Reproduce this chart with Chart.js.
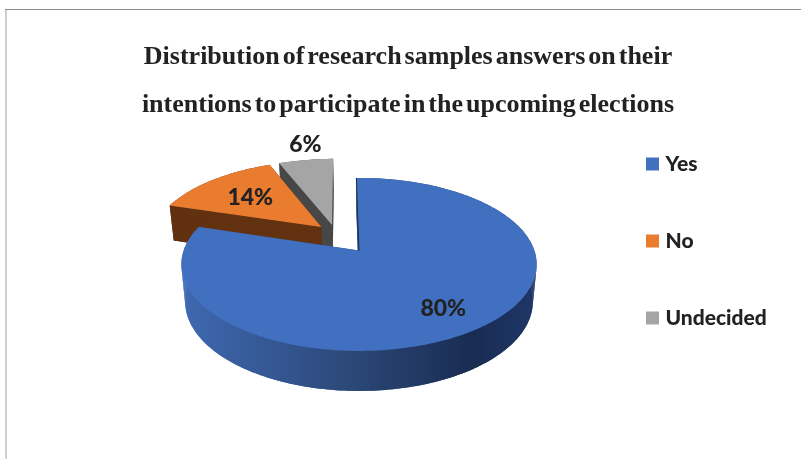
<!DOCTYPE html>
<html>
<head>
<meta charset="utf-8">
<style>
  html, body { margin: 0; padding: 0; background: #fff; }
  canvas { display: block; }
</style>
<script src="https://cdn.jsdelivr.net/npm/chart.js@4"></script>
</head>
<body>
<canvas id="chart" width="801" height="459"></canvas>
<script>
const categories = ["Yes", "No", "Undecided"]
const shares = [80, 14, 6]
const titleLines = [
  "Distribution of research samples answers on their",
  "intentions to participate in the upcoming elections",
]

const topColors = ["#4270c0", "#ea7c30", "#a5a5a5"]
const sideColors = [null, "#613110", "#474747"]
// exploded slices slide on the ground plane, in units of the pie radius
const sliceShift = [[0, 0], [-0.225, 0.293], [-0.1615, 0.319]]
// where each % label sits: along the slice's middle (radius units), and turned off it (radians)
const labelReach = [0.75, 0.63, 1.3]
const labelTurn = [0.03, 0, 0.034]

const PERSPECTIVE = 0.1607

// ground plane (u right, v away from viewer) -> screen, fitted to the reference
const project = (arc, u, v, lower) => {
  const d = 1 + PERSPECTIVE * v
  const t = v / d
  const R = arc.outerRadius
  const ax = arc.x
  const ay = arc.y - 14
  if (lower) return [ax + 0.964 * R * u / d, ay + 36.6 - (0.4734 * R + 2.87) * t]
  return [ax + 0.985 * R * u / d, ay - 0.4734 * R * t]
}

const rimPoint = (arc, angle, reach, shift, lower) => {
  const th = angle + Math.PI / 2
  return project(arc, reach * Math.sin(th) + shift[0], reach * Math.cos(th) + shift[1], lower)
}

const outline = (arc, shift, lower) => {
  const pts = [project(arc, shift[0], shift[1], lower)]
  const steps = Math.ceil((arc.endAngle - arc.startAngle) / 0.02)
  for (let i = 0; i <= steps; i++) {
    const a = arc.startAngle + (arc.endAngle - arc.startAngle) * i / steps
    pts.push(rimPoint(arc, a, 1, shift, lower))
  }
  return pts
}

const fillPoly = (ctx, pts) => {
  ctx.beginPath()
  pts.forEach((p, i) => (i ? ctx.lineTo(p[0], p[1]) : ctx.moveTo(p[0], p[1])))
  ctx.closePath()
  ctx.fill()
}

const drawSlice = (ctx, arc, i) => {
  const top = outline(arc, sliceShift[i], false)
  const low = outline(arc, sliceShift[i], true)
  if (i === 0) {
    const R = arc.outerRadius
    const g = ctx.createLinearGradient(arc.x - R, 0, arc.x + R, 0)
    g.addColorStop(0, "#3f69b2")
    g.addColorStop(0.5, "#2a4675")
    g.addColorStop(0.82, "#192c52")
    g.addColorStop(1, "#1f3768")
    ctx.fillStyle = g
  } else {
    ctx.fillStyle = sideColors[i]
  }
  fillPoly(ctx, low)
  for (let k = 0; k < top.length; k++) {
    const n = (k + 1) % top.length
    fillPoly(ctx, [top[k], top[n], low[n], low[k]])
  }
  ctx.fillStyle = topColors[i]
  fillPoly(ctx, top)
  if (i === 0) {
    // thin dark edge of the cut on the big slice
    ctx.strokeStyle = "#1c3058"
    ctx.lineWidth = 1
    ctx.beginPath()
    ctx.moveTo(top[0][0], top[0][1])
    ctx.lineTo(top[1][0], top[1][1])
    ctx.stroke()
  }
}

const pie3d = {
  id: "pie3d",
  afterLayout(chart) {
    // the reference's boxes don't follow Chart.js' layout, so pin them here
    const area = chart.chartArea
    area.left = 181; area.right = 537; area.top = 86.5; area.bottom = 442.5
    area.width = 356; area.height = 356
    const title = chart.titleBlock
    title.left = 16; title.right = 800; title.top = 0
    const legend = chart.legend
    legend.left = 594; legend.top = 97.5
  },
  beforeDraw(chart) {
    const ctx = chart.ctx
    ctx.fillStyle = "#ffffff"
    ctx.fillRect(0, 0, chart.width, chart.height)
    ctx.fillStyle = "#8c8c8c"
    ctx.fillRect(5, 9, chart.width - 5, 1)
    ctx.fillStyle = "#cfcfcf"
    ctx.fillRect(5, 10, 2, chart.height - 10)
    ctx.wordSpacing = "-3.5px"
  },
  beforeDatasetsDraw(chart) {
    const ctx = chart.ctx
    const arcs = chart.getDatasetMeta(0).data
    ctx.save()
    ctx.wordSpacing = "0px"
    ;[2, 1, 0].forEach((i) => drawSlice(ctx, arcs[i], i))
    ctx.font = "900 23px Lato"
    ctx.textAlign = "center"
    ctx.textBaseline = "middle"
    ctx.fillStyle = "#222222"
    arcs.forEach((arc, i) => {
      const mid = (arc.startAngle + arc.endAngle) / 2 + labelTurn[i]
      const p = rimPoint(arc, mid, labelReach[i], sliceShift[i], false)
      ctx.fillText(shares[i] + "%", p[0], p[1] + 1)
    })
    ctx.restore()
    return false
  },
}

new Chart(document.getElementById("chart"), {
  type: "pie",
  data: {
    labels: categories,
    datasets: [{
      data: shares,
      backgroundColor: topColors,
      // legend swatch = 5px box + 8px stroke, keeps the text close to the swatch
      borderColor: topColors,
      borderWidth: 8,
      radius: 178,
    }],
  },
  options: {
    responsive: false,
    animation: false,
    rotation: -1,
    plugins: {
      tooltip: { enabled: false },
      title: {
        display: true,
        text: titleLines,
        color: "#222222",
        font: { family: "Liberation Serif", size: 26, weight: "bold", lineHeight: 1.85 },
        padding: { top: 33, bottom: 0 },
      },
      legend: {
        position: "right",
        align: "start",
        labels: {
          boxWidth: 5,
          boxHeight: 5,
          padding: 56,
          color: "#222222",
          font: { family: "Lato", size: 21, weight: "900" },
        },
      },
    },
  },
  plugins: [pie3d],
})
</script>
</body>
</html>
